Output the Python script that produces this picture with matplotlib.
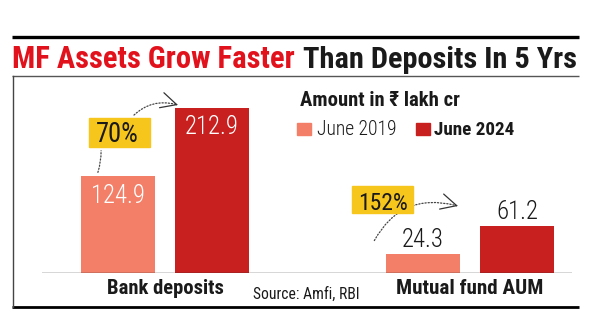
#!/usr/bin/env python3
import numpy as np
import matplotlib
matplotlib.use("Agg")
import matplotlib.pyplot as plt
from matplotlib import font_manager
from matplotlib.lines import Line2D
from matplotlib.patches import Rectangle, FancyArrowPatch

OUTPUT_FILE = "out.png"
W, H = 600, 329

categories = ["Bank deposits", "Mutual fund AUM"]
years = ["June 2019", "June 2024"]
june_2019 = [124.9, 24.3]
june_2024 = [212.9, 61.2]
growth = ["70%", "152%"]

LIGHT_RED = "#F47F68"
DARK_RED = "#C8201F"
YELLOW = "#F7C61C"
TITLE_RED = "#E2121C"
INK = "#1a1a1a"

names = {f.name for f in font_manager.fontManager.ttflist}


def pick(cands, default):
    for c in cands:
        if c in names:
            return c
    return default


NARROW = pick(["Roboto Condensed", "Liberation Sans Narrow", "DejaVu Sans Condensed"],
              "Liberation Sans")
FAM = [NARROW, "DejaVu Sans"]


def fpos(x, y):
    # pixel (from top-left) -> figure fraction
    return x / W, 1 - y / H


fig = plt.figure(figsize=(W / 100, H / 100), dpi=100)
renderer = fig.canvas.get_renderer()


def fit(t, width, lo=0.6, hi=1.15):
    w = t.get_window_extent(renderer).width
    k = min(max(width / w, lo), hi)
    t.set_fontsize(t.get_fontsize() * k)
    return k


def label(s, x0, x1, base, size, **kw):
    fx, fy = fpos(x0, base)
    t = fig.text(fx, fy, s, ha="left", va="baseline", fontsize=size,
                 family=FAM, **kw)
    fit(t, x1 - x0)
    return t


def hline(x0, x1, y, color, lw):
    a, b = fpos(x0, y), fpos(x1, y)
    fig.add_artist(Line2D([a[0], b[0]], [a[1], b[1]], color=color, lw=lw,
                          transform=fig.transFigure, solid_capstyle="butt"))


# frame
hline(12, 579, 36.7, "black", 2.4)
hline(12, 579, 75.7, "#555555", 1.0)
hline(12, 579, 307, "black", 2.0)
a, b = fpos(12.5, 75.7), fpos(12.5, 307)
fig.add_artist(Line2D([a[0], b[0]], [a[1], b[1]], color="#444444", lw=1.0,
                      transform=fig.transFigure))

# title
label("MF Assets Grow Faster", 12, 295, 68.3, 22.7, color=TITLE_RED, weight="black")
label("Than Deposits In 5 Yrs", 303, 577, 68.3, 22.7, color=INK, weight="black")

# chart area
x = np.arange(len(categories))
bw = 74 / 305
off = 47 / 305
ax = fig.add_axes([42 / W, 1 - 273 / H, (572 - 42) / W, (273 - 77) / H])
ax.set_xlim((42 - 165) / 305, (572 - 165) / 305)
ax.set_ylim(0, 196 / 0.7755)
ax.axis("off")
ax.bar(x - off, june_2019, width=bw, color=LIGHT_RED)
ax.bar(x + off, june_2024, width=bw, color=DARK_RED)
ax.axhline(0, color="#333333", lw=1.0)

# value labels
num_k = None
for xs, vals in ((x - off, june_2019), (x + off, june_2024)):
    for xi, v in zip(xs, vals):
        inside = v > 100
        t = ax.annotate(f"{v:.1f}", xy=(xi, v), xytext=(0, -26.5 if inside else 7),
                        textcoords="offset pixels", ha="center", va="baseline",
                        fontsize=19, family=FAM, weight="light",
                        color="white" if inside else INK)
        if num_k is None:
            num_k = fit(t, 54)
        else:
            t.set_fontsize(19 * num_k)

# category labels
cat_w = [117, 147]
for xi, cat, w in zip(x, categories, cat_w):
    t = ax.annotate(cat, xy=(xi, 0), xytext=(0, -21), textcoords="offset pixels",
                    ha="center", va="baseline", fontsize=14.4, weight="bold",
                    family=FAM, color=INK)
    fit(t, w)

label("Source: Amfi, RBI", 253, 360, 299, 12.5, color=INK)

# legend
label("Amount in \u20b9 lakh cr", 300, 460, 106, 15, color=INK, weight="bold")
for (x0, x1), c in (((297, 311), LIGHT_RED), ((416, 430), DARK_RED)):
    fx0, fy1 = fpos(x0, 135)
    fig.add_artist(Rectangle((fx0, fy1), (x1 - x0) / W, 12 / H, color=c,
                             transform=fig.transFigure))
label(years[0], 317, 397, 135, 12.5, color=INK, weight="light")
label(years[1], 434, 515, 135, 12.5, color=INK, weight="bold")

# growth boxes
boxes = [(89, 150, 118, 147, 96, 139, 141.7), (352, 413, 186, 213, 358, 408, 210)]
for g, (bx0, bx1, by0, by1, tx0, tx1, tb) in zip(growth, boxes):
    fx0, fy1 = fpos(bx0, by1)
    fig.add_artist(Rectangle((fx0, fy1), (bx1 - bx0) / W, (by1 - by0) / H,
                             color=YELLOW, transform=fig.transFigure, zorder=3))
    t = label(g, tx0, tx1, tb, 18, color=INK)
    t.set_zorder(4)


def curve(p0, p1, rad, head=True):
    a, b = fpos(*p0), fpos(*p1)
    fig.add_artist(FancyArrowPatch(a, b, transform=fig.transFigure,
                                   connectionstyle=f"arc3,rad={rad}",
                                   arrowstyle="-", linestyle=(0, (1, 1.5)),
                                   lw=0.9, color="#444444", zorder=2))
    if head:
        # tangent at the end of the arc3 curve
        x1, y1 = p0[0], H - p0[1]
        x2, y2 = p1[0], H - p1[1]
        cx = (x1 + x2) / 2 + rad * (y2 - y1)
        cy = (y1 + y2) / 2 - rad * (x2 - x1)
        d = np.array([x2 - cx, y2 - cy])
        d = d / np.hypot(*d)
        s = (x2 - d[0] * 2, H - (y2 - d[1] * 2))
        fig.add_artist(FancyArrowPatch(fpos(*s), b, transform=fig.transFigure,
                                       arrowstyle="->,head_length=0.7,head_width=0.35",
                                       mutation_scale=16, lw=0.9, color="#333333",
                                       shrinkA=0, shrinkB=0, zorder=2))


curve((97, 175), (101, 148), 0.1, head=False)
curve((132, 117), (178, 105), -0.3)
curve((373, 243), (458, 206), -0.4)

fig.savefig(OUTPUT_FILE, dpi=100)
